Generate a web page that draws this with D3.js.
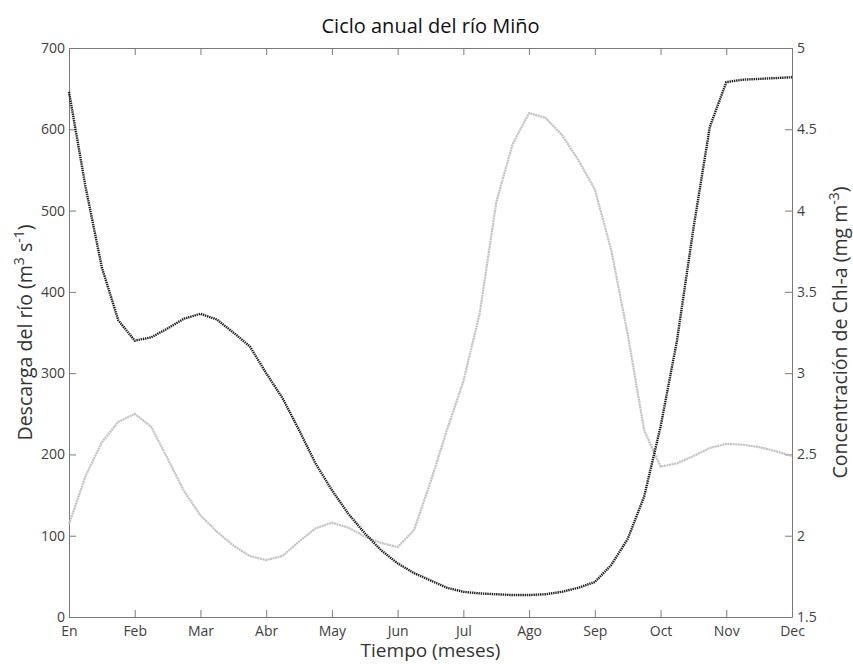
<!DOCTYPE html>
<html>
<head>
<meta charset="utf-8">
<script src="https://cdn.jsdelivr.net/npm/d3@7"></script>
<style>
  body { margin: 0; background: #fff; }
  svg text { font-family: "Open Sans", sans-serif; }
  .axis path, .axis line { stroke: #7a7a7a; stroke-width: 1; }
  .axis text { fill: #404040; font-size: 14px; }
</style>
</head>
<body>
<svg id="chart"></svg>
<script>
// month tick labels (x = month index 0..11)
const months = ['En', 'Feb', 'Mar', 'Abr', 'May', 'Jun', 'Jul', 'Ago', 'Sep', 'Oct', 'Nov', 'Dec'];

// sampling times, in months (quarter month steps)
const tiempo = [0, 0.25, 0.5, 0.75, 1, 1.25, 1.5, 1.75, 2, 2.25, 2.5, 2.75,
  3, 3.25, 3.5, 3.75, 4, 4.25, 4.5, 4.75, 5, 5.25, 5.5, 5.75,
  6, 6.25, 6.5, 6.75, 7, 7.25, 7.5, 7.75, 8, 8.25, 8.5, 8.75,
  9, 9.25, 9.5, 9.75, 10, 10.25, 10.5, 10.75, 11];

// river discharge (m3 s-1), left axis
const descarga = [646, 530, 430, 365, 340, 344, 355, 367, 373, 366, 350, 333,
  300, 269, 230, 189, 156, 127, 103, 82, 66, 54, 45, 36,
  31, 29, 28, 27, 27, 28, 31, 36, 43, 64, 96, 148,
  234, 340, 478, 603, 658, 661, 662, 663, 664];

// Chl-a concentration (mg m-3), right axis
const chla = [2.07, 2.365, 2.575, 2.70, 2.75, 2.67, 2.475, 2.275, 2.125, 2.025, 1.94, 1.875,
  1.85, 1.875, 1.965, 2.045, 2.08, 2.05, 1.995, 1.955, 1.93, 2.035, 2.33, 2.65,
  2.95, 3.37, 4.05, 4.41, 4.60, 4.57, 4.465, 4.31, 4.13, 3.757, 3.24, 2.65,
  2.425, 2.445, 2.49, 2.54, 2.565, 2.56, 2.545, 2.52, 2.49];

const leftTicks = [0, 100, 200, 300, 400, 500, 600, 700];
const rightTicks = [1.5, 2, 2.5, 3, 3.5, 4, 4.5, 5];

const width = 853, height = 664;
const margin = {top: 48, right: 61, bottom: 47, left: 69};
const innerW = width - margin.left - margin.right;
const innerH = height - margin.top - margin.bottom;

const svg = d3.select('#chart')
  .attr('width', width)
  .attr('height', height);

const g = svg.append('g')
  .attr('transform', `translate(${margin.left},${margin.top})`);

const x = d3.scaleLinear().domain([0, 11]).range([0, innerW]);
const yLeft = d3.scaleLinear().domain([0, 700]).range([innerH, 0]);
const yRight = d3.scaleLinear().domain([1.5, 5]).range([innerH, 0]);

const data = tiempo.map((t, i) => ({t: t, q: descarga[i], c: chla[i]}));

// axes, MATLAB style with inward ticks
g.append('g').attr('class', 'axis')
  .attr('transform', `translate(0,${innerH})`)
  .call(d3.axisBottom(x).tickValues(d3.range(months.length))
    .tickFormat(i => months[i]).tickSizeInner(-7).tickSizeOuter(0).tickPadding(9));

g.append('g').attr('class', 'axis')
  .call(d3.axisTop(x).tickValues(d3.range(months.length))
    .tickFormat('').tickSizeInner(-7).tickSizeOuter(0));

g.append('g').attr('class', 'axis')
  .call(d3.axisLeft(yLeft).tickValues(leftTicks)
    .tickSizeInner(-7).tickSizeOuter(0).tickPadding(4));

g.append('g').attr('class', 'axis')
  .attr('transform', `translate(${innerW},0)`)
  .call(d3.axisRight(yRight).tickValues(rightTicks)
    .tickFormat(d3.format('~g')).tickSizeInner(-7).tickSizeOuter(0).tickPadding(5));

// lines
const lineQ = d3.line().x(d => x(d.t)).y(d => yLeft(d.q));
const lineC = d3.line().x(d => x(d.t)).y(d => yRight(d.c));

g.append('path').datum(data)
  .attr('d', lineC)
  .attr('fill', 'none')
  .attr('stroke', '#c2c2c2')
  .attr('stroke-width', 2.2)
  .attr('stroke-dasharray', '2,0.6');

g.append('path').datum(data)
  .attr('d', lineQ)
  .attr('fill', 'none')
  .attr('stroke', '#1e1e1e')
  .attr('stroke-width', 2.4)
  .attr('stroke-dasharray', '1.4,0.8');

// title and labels
svg.append('text')
  .attr('x', margin.left + innerW / 2).attr('y', 33)
  .attr('text-anchor', 'middle')
  .style('font-size', '20px').style('fill', '#111')
  .text('Ciclo anual del río Miño');

svg.append('text')
  .attr('x', margin.left + innerW / 2).attr('y', 657)
  .attr('text-anchor', 'middle')
  .style('font-size', '19px').style('fill', '#333')
  .text('Tiempo (meses)');

const yl = svg.append('text')
  .attr('transform', `translate(32,${margin.top + innerH / 2}) rotate(-90)`)
  .attr('text-anchor', 'middle')
  .style('font-size', '19.5px').style('fill', '#333');
yl.append('tspan').text('Descarga del río (m');
yl.append('tspan').attr('dy', -8).style('font-size', '14px').text('3');
yl.append('tspan').attr('dy', 8).text(' s');
yl.append('tspan').attr('dy', -8).style('font-size', '14px').text('-1');
yl.append('tspan').attr('dy', 8).text(')');

const yr = svg.append('text')
  .attr('transform', `translate(847,${margin.top + innerH / 2}) rotate(-90)`)
  .attr('text-anchor', 'middle')
  .style('font-size', '19.5px').style('fill', '#333');
yr.append('tspan').text('Concentración de Chl-a (mg m');
yr.append('tspan').attr('dy', -8).style('font-size', '14px').text('-3');
yr.append('tspan').attr('dy', 8).text(')');
</script>
</body>
</html>
